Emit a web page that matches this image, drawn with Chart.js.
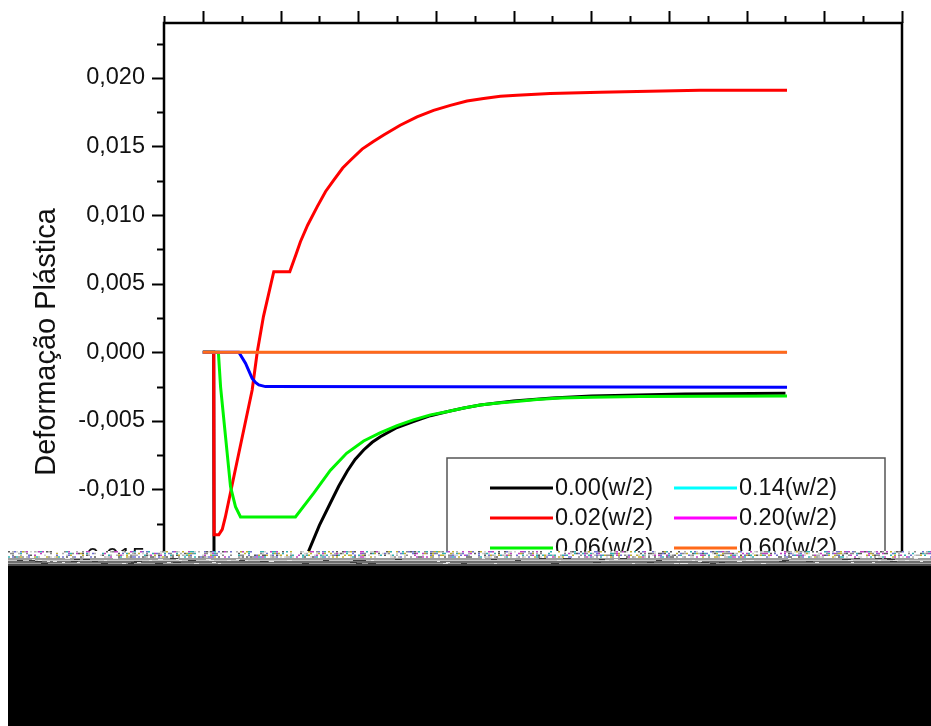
<!DOCTYPE html>
<html lang="pt">
<head>
<meta charset="utf-8">
<title>Deformação Plástica</title>
<script src="https://cdn.jsdelivr.net/npm/chart.js@4.4.1/dist/chart.umd.min.js"></script>
<style>
  html, body { margin: 0; padding: 0; background: #fff; }
  canvas { display: block; }
</style>
</head>
<body>
<canvas id="myChart" width="931" height="726"></canvas>
<script>
'use strict';

// SERIES (one per position, given as a fraction of w/2)
const seriesLabels = ['0.00(w/2)', '0.02(w/2)', '0.06(w/2)', '0.10(w/2)', '0.14(w/2)', '0.20(w/2)', '0.60(w/2)'];
const seriesColors = ['#000000', '#ff0000', '#00f400', '#0000ff', '#00ffff', '#ff00ff', '#ff6a1a'];

const xPos000 = [0, 1.4, 1.45, 11.0, 12.3, 13.6, 15.0, 16.4, 17.5, 18.6, 19.6, 20.7, 21.8, 22.85, 25.0, 27.1, 29.3, 31.4, 33.6, 35.7, 40.0, 45.0, 50.0, 56.0, 62.0, 75.0];
const yPos000 = [0, 0, -0.0195, -0.0195, -0.0172, -0.01452, -0.01261, -0.0110, -0.00975, -0.00865, -0.00781, -0.00712, -0.00656, -0.00615, -0.00548, -0.00505, -0.00462, -0.00433, -0.00406, -0.00384, -0.00355, -0.00333, -0.00318, -0.00311, -0.00304, -0.00299];

const xPos002 = [0, 1.4, 1.45, 2.05, 2.5, 2.9, 4.2, 6.35, 7.0, 7.8, 9.13, 11.19, 12.0, 12.56, 13.5, 14.71, 15.8, 16.85, 18.0, 19.0, 20.5, 21.9, 23.28, 25.4, 27.57, 29.7, 31.86, 34.0, 36.14, 38.3, 40.43, 44.71, 51.14, 57.5, 64.0, 75.2];
const yPos002 = [0, 0, -0.0133, -0.0133, -0.0129, -0.0120, -0.00851, -0.00275, 0.0000, 0.0026, 0.00587, 0.00587, 0.00715, 0.00806, 0.00928, 0.0106, 0.01172, 0.01255, 0.01343, 0.0140, 0.01481, 0.01535, 0.01584, 0.01655, 0.01716, 0.01763, 0.0180, 0.01832, 0.0185, 0.01866, 0.01874, 0.01886, 0.01896, 0.01903, 0.0191, 0.0191];

const xPos006 = [0, 2.0, 2.28, 2.92, 3.56, 4.2, 4.85, 11.92, 14.3, 16.4, 18.5, 20.7, 22.8, 25.0, 27.1, 29.3, 31.4, 33.6, 35.7, 38.0, 40.0, 43.0, 46.0, 50.0, 56.3, 65.0, 75.2];
const yPos006 = [0, 0, -0.0025, -0.00615, -0.00979, -0.01125, -0.0120, -0.0120, -0.01025, -0.00861, -0.00736, -0.00646, -0.00587, -0.00535, -0.00493, -0.00456, -0.00433, -0.00406, -0.00384, -0.00369, -0.0036, -0.00344, -0.00334, -0.00328, -0.00323, -0.0032, -0.00318];

const xPos010 = [0, 4.63, 5.49, 6.35, 6.78, 7.2, 8.06, 75.2];
const yPos010 = [0, 0, -0.0008, -0.0019, -0.0022, -0.00238, -0.0025, -0.00255];

const xPos014 = [0, 75.2];
const yPos014 = [0, 0];

const xPos020 = [0, 75.2];
const yPos020 = [0, 0];

const xPos060 = [0, 75.2];
const yPos060 = [0, 0];

const seriesX = [xPos000, xPos002, xPos006, xPos010, xPos014, xPos020, xPos060];
const seriesY = [yPos000, yPos002, yPos006, yPos010, yPos014, yPos020, yPos060];

// AXES
const yTickValues = [-0.020, -0.015, -0.010, -0.005, 0, 0.005, 0.010, 0.015, 0.020];
const xTickValues = [0, 10, 20, 30, 40, 50, 60, 70, 80, 90];
const yTitle = 'Deformação Plástica';

const FONT = "'Liberation Sans', Arial, sans-serif";

// HELPERS
function toPoints(xs, ys) {
  let pts = [];
  for (let i = 0; i < xs.length; i++) {
    pts.push({ x: xs[i], y: ys[i] });
  }
  return pts;
}

function hash(n) {
  let s = Math.sin(n * 12.9898) * 43758.5453;
  return s - Math.floor(s);
}

// frame, tick marks, legend box and the damaged strip at the bottom
const framePlugin = {
  id: 'framePlugin',
  beforeDraw(chart) {
    const ctx = chart.ctx;
    ctx.save();
    ctx.fillStyle = '#fff';
    ctx.fillRect(0, 0, chart.width, chart.height);
    ctx.restore();
  },
  afterDatasetsDraw(chart) {
    const { ctx, chartArea: a } = chart;
    const x = chart.scales.x;
    const y = chart.scales.y;
    ctx.save();

    // tick marks: left side, every 0.0025 with majors on the labelled values
    ctx.strokeStyle = '#000';
    ctx.lineWidth = 2;
    ctx.beginPath();
    for (let k = Math.ceil(y.min / 0.0025 - 1e-9); k <= Math.floor(y.max / 0.0025 + 1e-9); k++) {
      const py = Math.round(y.getPixelForValue(k * 0.0025)) + 0.5;
      const len = (k % 2 === 0) ? 12 : 7;
      ctx.moveTo(a.left, py);
      ctx.lineTo(a.left - len, py);
    }
    // top side, majors on xTickValues and a minor halfway before each
    xTickValues.forEach((v) => {
      const px = Math.round(x.getPixelForValue(v)) + 0.5;
      ctx.moveTo(px, a.top);
      ctx.lineTo(px, a.top - 12);
      const half = Math.round(x.getPixelForValue(v - 5)) + 0.5;
      ctx.moveTo(half, a.top);
      ctx.lineTo(half, a.top - 7);
    });
    ctx.stroke();

    // frame
    ctx.lineWidth = 2.5;
    ctx.strokeRect(a.left, a.top, a.right - a.left, a.bottom - a.top);

    // legend box, two columns of four
    const boxL = a.left + 283;
    const boxT = a.top + 435;
    const boxW = 438;
    const boxH = 150;
    ctx.fillStyle = '#fff';
    ctx.fillRect(boxL, boxT, boxW, boxH);
    ctx.strokeStyle = '#555';
    ctx.lineWidth = 1.5;
    ctx.strokeRect(boxL, boxT, boxW, boxH);

    ctx.font = '23.5px ' + FONT;
    ctx.textBaseline = 'middle';
    ctx.textAlign = 'left';
    chart.data.datasets.forEach((ds, i) => {
      const col = Math.floor(i / 4);
      const row = i % 4;
      const lx = boxL + 43 + col * 184;
      const ly = boxT + 30 + row * 30;
      ctx.strokeStyle = ds.borderColor;
      ctx.lineWidth = 3;
      ctx.beginPath();
      ctx.moveTo(lx, ly);
      ctx.lineTo(lx + 63, ly);
      ctx.stroke();
      ctx.fillStyle = '#111';
      ctx.fillText(ds.label, lx + 65, ly + 1);
    });
    ctx.restore();
  },
  afterDraw(chart) {
    const ctx = chart.ctx;
    const w = chart.width;
    ctx.save();
    // speckled rows
    ctx.fillStyle = '#fff';
    ctx.fillRect(8, 551, w - 8, 7);
    const speckle = ['#8a8a8a', '#b0b0b0', '#5a5a5a', '#c040c0', '#30b0b0', '#c0b030', '#7070d0', '#d0d0d0'];
    for (let px = 8; px < w; px += 2) {
      for (let row = 0; row < 4; row++) {
        const n = hash(px * 7.13 + row * 131.7);
        if (n < 0.55) {
          ctx.fillStyle = speckle[Math.floor(hash(px + row * 3.1) * speckle.length)];
          ctx.fillRect(px, 551 + row * 1.75, 2, 1.5);
        }
      }
    }
    // grey stripes
    const stripes = [['#9c9c9c', 558, 2], ['#c9c9c9', 560, 1], ['#6f6f6f', 561, 2], ['#a3a3a3', 563, 1], ['#4a4a4a', 564, 2]];
    stripes.forEach(s => {
      ctx.fillStyle = s[0];
      ctx.fillRect(8, s[1], w - 8, s[2]);
    });
    for (let px = 8; px < w; px += 3) {
      const n = hash(px * 3.7 + 11.0);
      if (n < 0.3) {
        ctx.fillStyle = n < 0.15 ? '#e8e8e8' : '#3c3c3c';
        ctx.fillRect(px, 558 + Math.floor(hash(px) * 6), 3 + Math.floor(n * 20), 1);
      }
    }
    ctx.fillStyle = '#000';
    ctx.fillRect(8, 566, w - 8, chart.height - 566);
    ctx.restore();
  }
};

// CHART
let datasets = [];
for (let i = 0; i < seriesLabels.length; i++) {
  datasets.push({
    label: seriesLabels[i],
    data: toPoints(seriesX[i], seriesY[i]),
    borderColor: seriesColors[i],
    backgroundColor: seriesColors[i],
    // the two series lying under the orange one are kept thinner
    borderWidth: (i === 4 || i === 5) ? 2 : 3,
    pointRadius: 0,
    tension: 0,
    fill: false,
    // later series are painted over earlier ones
    order: seriesLabels.length - i
  });
}

const ctx = document.getElementById('myChart').getContext('2d');
const myChart = new Chart(ctx, {
  type: 'line',
  data: { datasets: datasets },
  options: {
    responsive: false,
    animation: false,
    devicePixelRatio: 1,
    layout: { padding: { left: 0, top: 23, right: 29, bottom: 65 } },
    plugins: {
      legend: { display: false },
      tooltip: { enabled: false }
    },
    scales: {
      x: {
        type: 'linear',
        min: -5,
        max: 90,
        display: false
      },
      y: {
        type: 'linear',
        min: -0.0225,
        max: 0.024,
        afterBuildTicks: (scale) => {
          scale.ticks = yTickValues.map(v => ({ value: v }));
        },
        afterFit: (scale) => {
          scale.width = 164;
          // keep the plot box where the layout padding puts it
          scale.paddingTop = 0;
          scale.paddingBottom = 0;
        },
        grid: { display: false, drawTicks: false },
        border: { display: false },
        ticks: {
          padding: 19,
          color: '#111',
          font: { family: FONT, size: 23.5 },
          callback: (value) => value.toFixed(3).replace('.', ',')
        },
        title: {
          display: true,
          text: yTitle,
          color: '#111',
          font: { family: FONT, size: 29 },
          padding: { top: 30, bottom: 0 }
        }
      }
    }
  },
  plugins: [framePlugin]
});
</script>
</body>
</html>
